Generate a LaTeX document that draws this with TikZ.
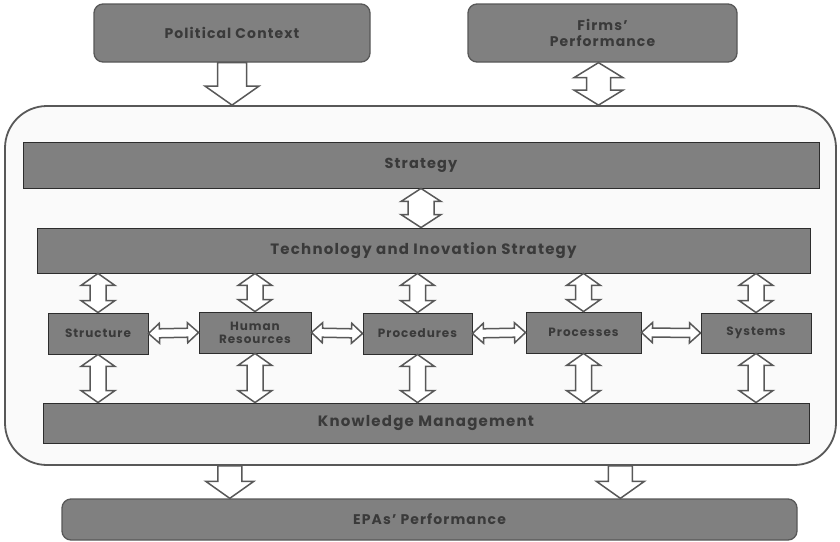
\documentclass[tikz,border=0pt]{standalone}
\usepackage{fontspec}
\setmainfont{Poppins}[LetterSpace=8]
\usetikzlibrary{positioning,calc}
\definecolor{boxgray}{RGB}{128,128,128}
\definecolor{boxtext}{RGB}{58,58,58}
\definecolor{boxline}{RGB}{45,45,45}
\definecolor{arrline}{RGB}{88,88,88}
\definecolor{panelbg}{RGB}{250,250,250}

\begin{document}
\begin{tikzpicture}[
  x=1pt,y=-1pt,
  every node/.style={font=\fontsize{14}{14}\selectfont\bfseries,text=boxtext},
  block/.style={rectangle,draw=boxline,fill=boxgray,align=center,inner sep=2pt,line width=0.9pt},
  smallblock/.style={block,font=\fontsize{12}{13}\selectfont\bfseries},
  wideblock/.style={block,font=\fontsize{15}{15}\selectfont\bfseries},
  roundblock/.style={block,rounded corners=9pt,draw=arrline,line width=1.3pt},
  twoway/.style n args={3}{draw=arrline,fill=white,line width=1.5pt,line join=miter,
    to path={-- ($(\tikztostart)!#1!(\tikztotarget)!#2!90:(\tikztotarget)$)
      -- ($(\tikztostart)!#1!(\tikztotarget)!#3!90:(\tikztotarget)$)
      -- ($(\tikztotarget)!#1!(\tikztostart)!#3!-90:(\tikztostart)$)
      -- ($(\tikztotarget)!#1!(\tikztostart)!#2!-90:(\tikztostart)$)
      -- (\tikztotarget)
      -- ($(\tikztotarget)!#1!(\tikztostart)!#2!90:(\tikztostart)$)
      -- ($(\tikztotarget)!#1!(\tikztostart)!#3!90:(\tikztostart)$)
      -- ($(\tikztostart)!#1!(\tikztotarget)!#3!-90:(\tikztotarget)$)
      -- ($(\tikztostart)!#1!(\tikztotarget)!#2!-90:(\tikztotarget)$)
      -- cycle}},
  oneway/.style n args={3}{draw=arrline,fill=white,line width=1.5pt,line join=miter,
    to path={-- ($(\tikztostart)!#3!90:(\tikztotarget)$)
      -- ($(\tikztotarget)!#1!(\tikztostart)!#3!-90:(\tikztostart)$)
      -- ($(\tikztotarget)!#1!(\tikztostart)!#2!-90:(\tikztostart)$)
      -- (\tikztotarget)
      -- ($(\tikztotarget)!#1!(\tikztostart)!#2!90:(\tikztostart)$)
      -- ($(\tikztotarget)!#1!(\tikztostart)!#3!90:(\tikztostart)$)
      -- ($(\tikztostart)!#3!-90:(\tikztotarget)$)
      -- cycle}}
]
\useasboundingbox[fill=white] (0,0) rectangle (840,541);

\node[rectangle,rounded corners=42pt,draw=arrline,fill=panelbg,line width=1.8pt,
  minimum width=831pt,minimum height=359pt] (panel) at (420.5,285.5) {};

\node[roundblock,minimum width=276pt,minimum height=58pt] (polctx) at (232,33) {Political Context};
\node[roundblock,minimum width=269pt,minimum height=58pt,font=\fontsize{14}{16}\selectfont\bfseries] (firms) at (602.5,33) {Firms’\\Performance};

\node[block,minimum width=796pt,minimum height=46pt,font=\fontsize{14.5}{15}\selectfont\bfseries] (strategy) at (421,165) {Strategy};
\node[wideblock,minimum width=773pt,minimum height=45pt] (tech) at (423.5,250.5) {Technology and Inovation Strategy};

\node[smallblock,minimum width=100pt,minimum height=41pt] (struct) at (98,333.5) {Structure};
\node[smallblock,minimum width=112pt,minimum height=41pt] (human) at (255,332.5) {Human\\Resources};
\node[smallblock,minimum width=109pt,minimum height=41pt] (proced) at (417.5,333.5) {Procedures};
\node[smallblock,minimum width=115pt,minimum height=41pt] (process) at (583.5,332.5) {Processes};
\node[smallblock,minimum width=110pt,minimum height=40pt] (systems) at (756,333) {Systems};

\node[wideblock,minimum width=766pt,minimum height=40pt] (km) at (426,423) {Knowledge Management};
\node[roundblock,minimum width=735pt,minimum height=41pt] (epas) at (429.5,519.5) {EPAs’ Performance};

\coordinate (outl) at ($(panel.south west)!0.271!(panel.south east)$);
\coordinate (outr) at ($(panel.south west)!0.74!(panel.south east)$);
\coordinate (firmsout) at ($(firms.south)+(-4,0)$);

\draw[oneway={19pt}{27pt}{14.5pt}] (polctx.south) to (polctx.south |- panel.north);
\draw[twoway={15pt}{24.5pt}{12pt}] (firmsout) to (firmsout |- panel.north);
\draw[twoway={13pt}{20pt}{13pt}] (strategy.south) to (strategy.south |- tech.north);

\foreach \n in {struct,human,proced,process,systems}{
  \draw[twoway={12pt}{17pt}{8pt}] (\n.north |- tech.south) to (\n.north);
  \draw[twoway={12pt}{17pt}{8pt}] (\n.south) to (\n.south |- km.north);
}

\draw[twoway={11pt}{10pt}{4.5pt}] (struct.east) to (human.west);
\draw[twoway={11pt}{10pt}{4.5pt}] (human.east) to (proced.west);
\draw[twoway={11pt}{10pt}{4.5pt}] (proced.east) to (process.west);
\draw[twoway={11pt}{10pt}{4.5pt}] (process.east) to (systems.west);

\draw[oneway={17pt}{24pt}{12pt}] (outl) to (outl |- epas.north);
\draw[oneway={17pt}{24pt}{12pt}] (outr) to (outr |- epas.north);
\end{tikzpicture}
\end{document}
